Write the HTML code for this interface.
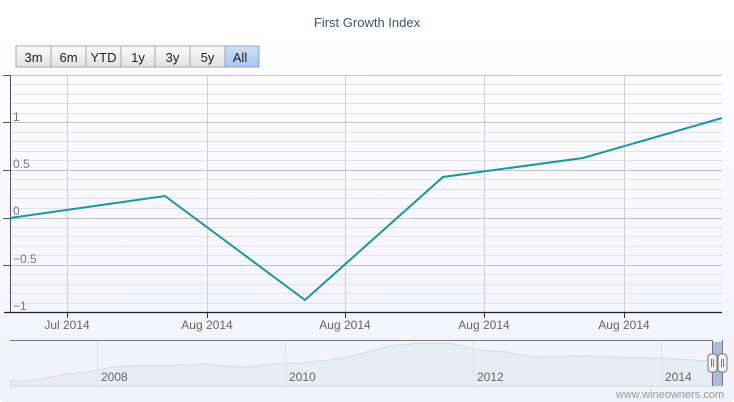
<!DOCTYPE html>
<html><head><meta charset="utf-8"><style>
html,body{margin:0;padding:0;width:734px;height:402px;overflow:hidden;background:#fff}
svg{display:block}
text{font-family:"Liberation Sans","DejaVu Sans",sans-serif}
</style></head><body>
<svg width="734" height="402" xmlns="http://www.w3.org/2000/svg">
<defs>
<linearGradient id="bg" x1="0" y1="0" x2="0" y2="1"><stop offset="0" stop-color="#ffffff"/><stop offset="1" stop-color="#f1f1fa"/></linearGradient>
<linearGradient id="btn" x1="0" y1="0" x2="0" y2="1"><stop offset="0" stop-color="#fbfbfb"/><stop offset="1" stop-color="#e2e2e2"/></linearGradient>
<linearGradient id="btna" x1="0" y1="0" x2="0" y2="1"><stop offset="0" stop-color="#cfe0f5"/><stop offset="1" stop-color="#a9c6ec"/></linearGradient>
</defs>
<rect width="734" height="402" fill="url(#bg)" rx="4"/>
<text x="367" y="27" text-anchor="middle" font-size="13" fill="#3e576f">First Growth Index</text>
<g font-size="13" fill="#222" text-anchor="middle">
<rect x="16" y="46" width="35" height="21" fill="url(#btn)" stroke="#aaa"/><text x="33.5" y="62">3m</text>
<rect x="51" y="46" width="35" height="21" fill="url(#btn)" stroke="#aaa"/><text x="68.5" y="62">6m</text>
<rect x="86" y="46" width="35" height="21" fill="url(#btn)" stroke="#aaa"/><text x="103.5" y="62">YTD</text>
<rect x="121" y="46" width="34" height="21" fill="url(#btn)" stroke="#aaa"/><text x="138" y="62">1y</text>
<rect x="155" y="46" width="35" height="21" fill="url(#btn)" stroke="#aaa"/><text x="172.5" y="62">3y</text>
<rect x="190" y="46" width="35" height="21" fill="url(#btn)" stroke="#aaa"/><text x="207.5" y="62">5y</text>
<rect x="225" y="46" width="34" height="21" fill="url(#btna)" stroke="#8aa8d0"/><text x="240" y="62">All</text>
</g>
<g stroke="#e2e2e8" stroke-width="1">
<line x1="10" x2="722" y1="84.5" y2="84.5"/><line x1="10" x2="722" y1="94.5" y2="94.5"/><line x1="10" x2="722" y1="103.5" y2="103.5"/><line x1="10" x2="722" y1="113.5" y2="113.5"/>
<line x1="10" x2="722" y1="132.5" y2="132.5"/><line x1="10" x2="722" y1="141.5" y2="141.5"/><line x1="10" x2="722" y1="151.5" y2="151.5"/><line x1="10" x2="722" y1="160.5" y2="160.5"/>
<line x1="10" x2="722" y1="179.5" y2="179.5"/><line x1="10" x2="722" y1="189.5" y2="189.5"/><line x1="10" x2="722" y1="198.5" y2="198.5"/><line x1="10" x2="722" y1="208.5" y2="208.5"/>
<line x1="10" x2="722" y1="227.5" y2="227.5"/><line x1="10" x2="722" y1="236.5" y2="236.5"/><line x1="10" x2="722" y1="246.5" y2="246.5"/><line x1="10" x2="722" y1="255.5" y2="255.5"/>
<line x1="10" x2="722" y1="274.5" y2="274.5"/><line x1="10" x2="722" y1="284.5" y2="284.5"/><line x1="10" x2="722" y1="293.5" y2="293.5"/><line x1="10" x2="722" y1="303.5" y2="303.5"/>
</g>
<g stroke="#d0d0d6" stroke-width="1">
<line x1="67.5" x2="67.5" y1="75" y2="312"/><line x1="207.5" x2="207.5" y1="75" y2="312"/><line x1="345.5" x2="345.5" y1="75" y2="312"/><line x1="484.5" x2="484.5" y1="75" y2="312"/><line x1="624.5" x2="624.5" y1="75" y2="312"/>
</g>
<g stroke="#c4c4c8" stroke-width="1">
<line x1="10" x2="722" y1="75.5" y2="75.5"/><line x1="10" x2="722" y1="122.5" y2="122.5"/><line x1="10" x2="722" y1="170.5" y2="170.5"/><line x1="10" x2="722" y1="218.5" y2="218.5"/><line x1="10" x2="722" y1="265.5" y2="265.5"/>
</g>
<g stroke="#555" stroke-width="1">
<line x1="10.5" x2="10.5" y1="75" y2="312"/>
<line x1="3" x2="11" y1="75.5" y2="75.5"/><line x1="3" x2="11" y1="122.5" y2="122.5"/><line x1="3" x2="11" y1="170.5" y2="170.5"/><line x1="3" x2="11" y1="218.5" y2="218.5"/><line x1="3" x2="11" y1="265.5" y2="265.5"/>
</g>
<line x1="4" x2="722" y1="312.5" y2="312.5" stroke="#222" stroke-width="1.2"/>
<g stroke="#333"><line x1="67.5" x2="67.5" y1="312" y2="318"/><line x1="207.5" x2="207.5" y1="312" y2="318"/><line x1="345.5" x2="345.5" y1="312" y2="318"/><line x1="484.5" x2="484.5" y1="312" y2="318"/><line x1="624.5" x2="624.5" y1="312" y2="318"/></g>
<g font-size="12" fill="#777">
<text x="13" y="121">1</text><text x="13" y="168">0.5</text><text x="13" y="215">0</text><text x="13" y="263">−0.5</text><text x="13" y="310">−1</text>
</g>
<g font-size="12" fill="#666" text-anchor="middle">
<text x="67" y="329">Jul 2014</text><text x="207" y="329">Aug 2014</text><text x="345" y="329">Aug 2014</text><text x="484" y="329">Aug 2014</text><text x="624" y="329">Aug 2014</text>
</g>
<polyline points="10,218 165,196 305,300 443,177 583,158 722,118" fill="none" stroke="#1c96a5" stroke-width="2"/>
<!-- navigator -->
<path d="M10,386 L10,381 L28,381 L47,378 L66,374 L94,371 L112,367 L131,366 L187,365 L201,364 L243,367 L272,364 L304,363 L328,360 L356,355 L389,346 L421,343 L449,343 L478,350 L506,352 L534,357 L581,356 L609,357 L655,358 L712,361 L712,386 Z" fill="#e8ecf4" stroke="#d4dce8"/>
<rect x="712" y="342" width="10" height="44" fill="#aabbdd"/>
<g stroke="#e6e6ea"><line x1="97.5" x2="97.5" y1="341" y2="386"/><line x1="285.5" x2="285.5" y1="341" y2="386"/><line x1="473.5" x2="473.5" y1="341" y2="386"/><line x1="661.5" x2="661.5" y1="341" y2="386"/></g>
<line x1="10" x2="712" y1="340.5" y2="340.5" stroke="#777" stroke-width="1"/>
<line x1="712.5" x2="712.5" y1="340" y2="386" stroke="#777"/>
<line x1="722.5" x2="722.5" y1="340" y2="386" stroke="#777"/>
<line x1="10" x2="722" y1="386.5" y2="386.5" stroke="#e0e0e8"/>
<rect x="708" y="354" width="9" height="18" rx="3" fill="#f4f4f4" stroke="#777"/>
<rect x="718" y="354" width="9" height="18" rx="3" fill="#f4f4f4" stroke="#777"/>
<g stroke="#777"><line x1="711.5" x2="711.5" y1="359" y2="367"/><line x1="713.5" x2="713.5" y1="359" y2="367"/><line x1="721.5" x2="721.5" y1="359" y2="367"/><line x1="723.5" x2="723.5" y1="359" y2="367"/></g>
<g font-size="12" fill="#666"><text x="101" y="381">2008</text><text x="289" y="381">2010</text><text x="477" y="381">2012</text><text x="665" y="381">2014</text></g>
<text x="724" y="398" text-anchor="end" font-size="11" fill="#999">www.wineowners.com</text>
</svg>
</body></html>
